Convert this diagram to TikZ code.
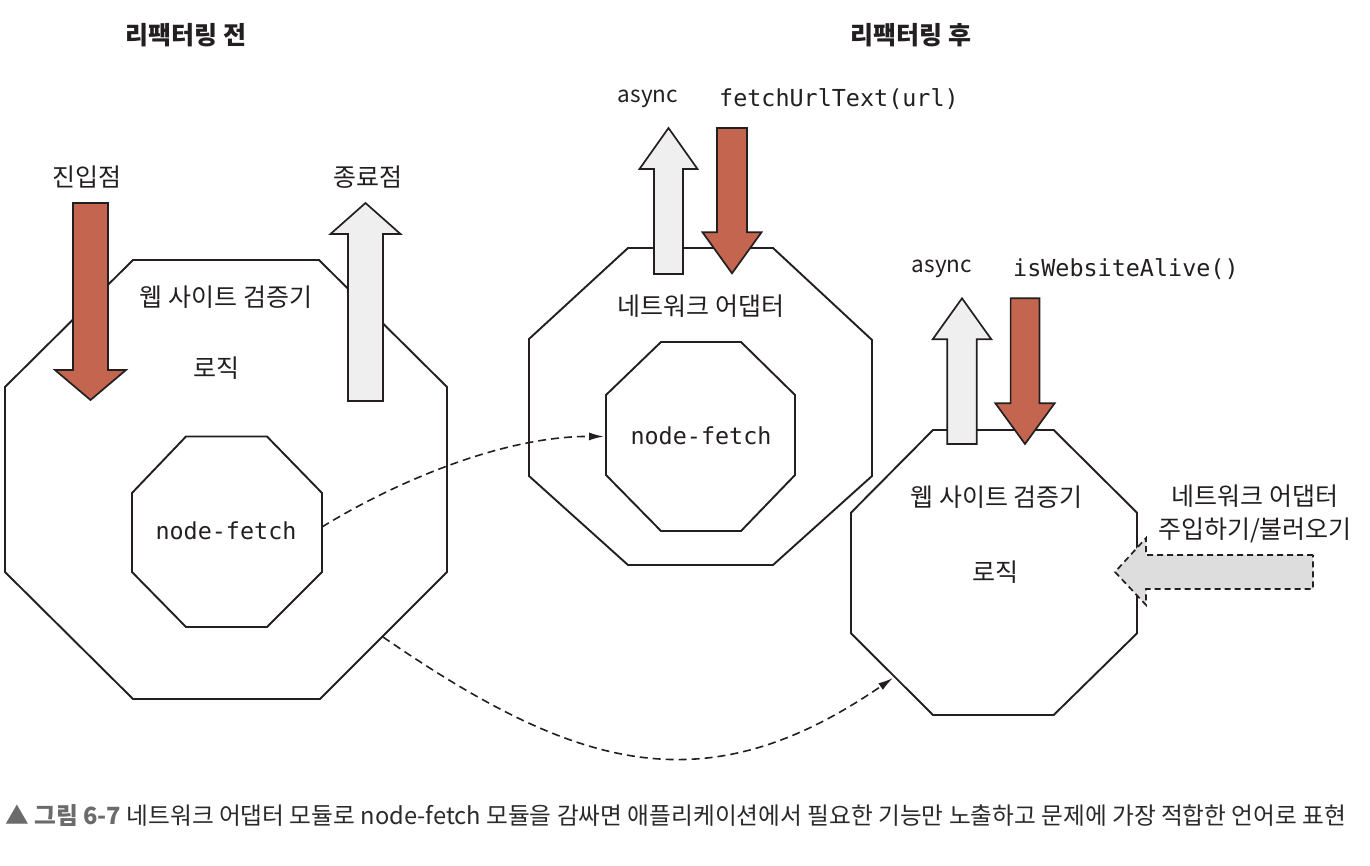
\documentclass[tikz,border=0pt]{standalone}
\usepackage{fontspec}
\setmainfont{Noto Sans CJK KR}
\newfontfamily\codefont{DejaVu Sans Mono}
\usetikzlibrary{arrows.meta}
\definecolor{ink}{HTML}{231F20}
\definecolor{brick}{HTML}{C4654F}
\definecolor{pale}{HTML}{EFEFEF}
\definecolor{inject}{HTML}{DDDDDD}
\definecolor{capgray}{HTML}{6B6B6B}
\definecolor{capdark}{HTML}{2A2A2A}

% style, x, tail y, head base y, tip y, half shaft, half head
\newcommand{\varrow}[7]{\draw[#1] (#2-#6,#3) -- (#2-#6,#4) -- (#2-#7,#4) -- (#2,#5)
  -- (#2+#7,#4) -- (#2+#6,#4) -- (#2+#6,#3) -- cycle;}

\begin{document}
\begin{tikzpicture}[x=1pt,y=-1pt]
\tikzstyle{every node}=[inner sep=0pt,text=ink,font=\fontsize{25}{32}\selectfont]
\tikzstyle{wall}=[draw=ink,line width=1.9pt]
\tikzstyle{call}=[draw=ink,fill=brick,line width=1.7pt]
\tikzstyle{ret}=[draw=ink,fill=pale,line width=1.7pt]
\tikzstyle{flow}=[draw=ink,line width=1.6pt,dash pattern=on 8pt off 5pt,-{Latex[length=15pt,width=8pt]}]
\tikzstyle{code}=[font=\codefont\fontsize{23.4}{28}\selectfont]
\tikzstyle{kw}=[font=\fontsize{22.5}{28}\selectfont]
\tikzstyle{title}=[font=\bfseries\fontsize{25}{30}\selectfont]

\useasboundingbox (0,0) rectangle (1370,866);

% before
\node[title] (before) at (186,35) {리팩터링 전};
\draw[wall] (133,260) -- (319,260) -- (447,387) -- (447,572) -- (320,699) -- (133,699) -- (5,572) -- (5,387) -- cycle;
\draw[wall] (186,436.5) -- (267,436.5) -- (322,493) -- (322,572) -- (267,627) -- (186,627) -- (132,572) -- (132,493) -- cycle;
\varrow{call}{90.5}{203}{370}{400}{17.5}{35.5}
\varrow{ret}{365.5}{401}{234}{203}{17.5}{35}
\node (entry) at (87,177) {진입점};
\node (exit) at (368,177) {종료점};
\node (oldsite) at (226,297) {웹 사이트 검증기};
\node (oldlogic) at (216,368) {로직};
\node[code] (oldfetch) at (226,531) {node-fetch};

% after: adapter
\node[title] (after) at (911,35) {리팩터링 후};
\draw[wall] (628,248) -- (773,248) -- (872,340) -- (872,476) -- (773,565) -- (628,565) -- (529,476) -- (529,339) -- cycle;
\draw[wall] (661,342) -- (741,342) -- (795,395) -- (795,475) -- (741,531) -- (661,531) -- (606,475) -- (606,395) -- cycle;
\varrow{ret}{668.5}{274}{169}{128}{14.5}{29}
\varrow{call}{732}{128}{232.3}{273.3}{15}{29.5}
\node[kw] (adasync) at (648,99) {async};
\node[code,anchor=west] (adcall) at (719,99) {fetchUrlText(url)};
\node (adapter) at (701,306) {네트워크 어댑터};
\node[code] (newfetch) at (701,436) {node-fetch};

% after: validator
\draw[wall] (933,430) -- (1053.7,430) -- (1137,512.7) -- (1137,633.3) -- (1053.7,715) -- (933,715) -- (851,633.3) -- (851,512.7) -- cycle;
\varrow{ret}{962}{444}{339.3}{298.3}{14.75}{29.3}
\varrow{call}{1025}{298.3}{403.3}{444}{14.4}{29.6}
\node[kw] (vasync) at (942,269) {async};
\node[code,anchor=west] (vcall) at (1013,269) {isWebsiteAlive()};
\node (newsite) at (996.5,497) {웹 사이트 검증기};
\node (newlogic) at (995.5,572) {로직};
\draw[ret,fill=inject,dash pattern=on 6pt off 4pt] (1313,555) -- (1146,555) -- (1146,538) -- (1115,572)
  -- (1146,605) -- (1146,589) -- (1313,589) -- cycle;
\node[align=center,font=\fontsize{25}{33}\selectfont] (inject) at (1255,514) {네트워크 어댑터\\주입하기/불러오기};

% moves
\coordinate (fetchold) at (322,527);
\coordinate (fetchnew) at (604,436.5);
\coordinate (oldrim) at (383,637);
\coordinate (newrim) at (893,678);
\draw[flow] (fetchold) .. controls (390,485) and (500,436) .. (fetchnew);
\draw[flow] (oldrim) .. controls (575,769) and (704,808) .. (newrim);

\node[anchor=base west,text=capdark,font=\fontsize{23.7}{28}\selectfont] (caption) at (5,824)
  {{\color{capgray}\bfseries ▲ 그림 6-7} 네트워크 어댑터 모듈로 node-fetch 모듈을 감싸면 애플리케이션에서 필요한 기능만 노출하고 문제에 가장 적합한 언어로 표현};
\end{tikzpicture}
\end{document}
